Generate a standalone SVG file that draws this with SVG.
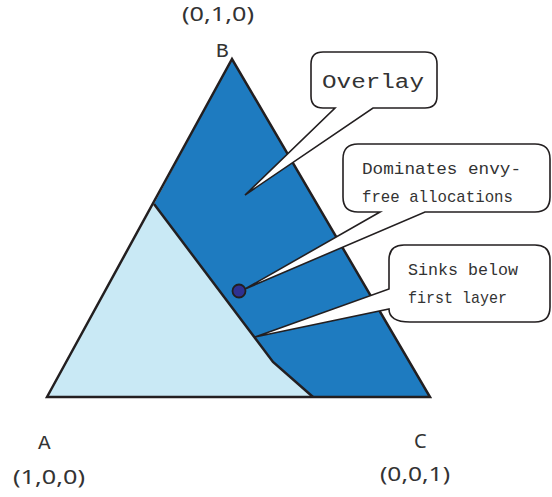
<svg xmlns="http://www.w3.org/2000/svg" width="552" height="497" viewBox="0 0 552 497">
<style>
.edge{fill:none;stroke:#231f20;stroke-width:2.5;stroke-linejoin:miter}
.bubble{fill:#ffffff;stroke:#231f20;stroke-width:1.6;stroke-linejoin:miter}
.mono{font-family:"Liberation Mono","DejaVu Sans Mono",monospace;fill:#333333}
.sans{font-family:"Noto Sans","Open Sans","Liberation Sans",sans-serif;fill:#333333}
</style>
<rect width="552" height="497" fill="#ffffff"/>
<g id="triangle">
  <polygon points="232,59 430,397 313,397 273,362 255,338 154,204" fill="#1e7bc0"/>
  <polygon points="47,397 154,204 255,338 273,362 313,397" fill="#c9e9f5"/>
  <polyline class="edge" points="154,204 255,338 273,362 313,397" stroke-width="2"/>
  <polygon class="edge" points="47,397 232,59 430,397"/>
</g>
<g id="callout-overlay">
  <path class="bubble" d="M323,52 H425 Q437,52 437,64 V96 Q437,108 425,108 H373 L245,195 L335,108 H323 Q311,108 311,96 V64 Q311,52 323,52 Z"/>
  <text class="mono" x="322" y="88" font-size="20" textLength="102" lengthAdjust="spacingAndGlyphs">Overlay</text>
</g>
<g id="callout-dominates">
  <path class="bubble" d="M358,144 H535 Q550,144 550,159 V197 Q550,212 535,212 H425 L245,289 L380,212 H358 Q343,212 343,197 V159 Q343,144 358,144 Z"/>
  <text class="mono" x="362" y="174" font-size="17" textLength="159" lengthAdjust="spacingAndGlyphs">Dominates envy-</text>
  <text class="mono" x="362" y="202" font-size="17" textLength="151" lengthAdjust="spacingAndGlyphs">free allocations</text>
</g>
<g id="callout-sinks">
  <path class="bubble" d="M404,245 H535 Q550,245 550,260 V307 Q550,322 535,322 H410 Q389,322 389,309 L255,337 L389,289 V260 Q389,245 404,245 Z"/>
  <text class="mono" x="408" y="275" font-size="17" textLength="110" lengthAdjust="spacingAndGlyphs">Sinks below</text>
  <text class="mono" x="408" y="303" font-size="17" textLength="99" lengthAdjust="spacingAndGlyphs">first layer</text>
</g>
<g id="point">
  <circle cx="239" cy="291" r="6.5" fill="#2e3192" stroke="#231f20" stroke-width="1.8"/>
</g>
<g id="label-B">
  <text class="mono" x="216" y="57" font-size="21">B</text>
  <text class="sans" x="182" y="21" font-size="20" textLength="72" lengthAdjust="spacingAndGlyphs">(0,1,0)</text>
</g>
<g id="label-A">
  <text class="mono" x="38" y="449" font-size="21">A</text>
  <text class="sans" x="13" y="484" font-size="20" textLength="72" lengthAdjust="spacingAndGlyphs">(1,0,0)</text>
</g>
<g id="label-C">
  <text class="sans" x="414" y="448" font-size="20">C</text>
  <text class="sans" x="380" y="481" font-size="20" textLength="70" lengthAdjust="spacingAndGlyphs">(0,0,1)</text>
</g>
</svg>
